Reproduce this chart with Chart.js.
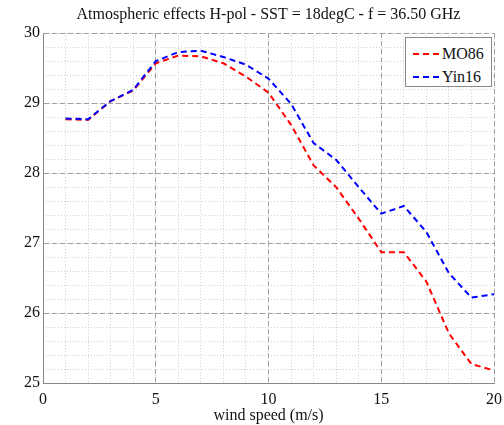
<!DOCTYPE html>
<html>
<head>
<meta charset="utf-8">
<script src="https://cdn.jsdelivr.net/npm/chart.js@4.4.1/dist/chart.umd.min.js"></script>
<style>
  html, body { margin: 0; padding: 0; background: #fff; }
  #wrap { position: relative; width: 504px; height: 425px; }
  #legend {
    position: absolute; left: 405px; top: 37px; width: 85px; height: 48px;
    border: 1px solid #888; background: #fff;
    font-family: 'Liberation Serif', 'Times New Roman', serif; font-size: 16px; color: #111;
  }
  .item { position: absolute; left: 7px; height: 20px; line-height: 20px; white-space: nowrap; }
  .sample { display: inline-block; width: 26px; height: 0; border-top: 2px dashed; vertical-align: middle; margin-right: 3px; position: relative; top: -1px; }
</style>
</head>
<body>
<div id="wrap">
  <canvas id="c" width="504" height="425"></canvas>
  <div id="legend">
    <div class="item" style="top:6px"><span class="sample" style="border-color:#ff0000"></span>MO86</div>
    <div class="item" style="top:29px"><span class="sample" style="border-color:#0000ff"></span>Yin16</div>
  </div>
</div>
<script>
const chartTitle = 'Atmospheric effects H-pol - SST = 18degC - f = 36.50 GHz';
const xAxisTitle = 'wind speed (m/s)';
const windSpeed = [1, 2, 3, 4, 5, 6, 7, 8, 9, 10, 11, 12, 13, 14, 15, 16, 17, 18, 19, 20];
const mo86 = [28.77, 28.76, 29.03, 29.18, 29.57, 29.68, 29.67, 29.57, 29.38, 29.15, 28.69, 28.11, 27.80, 27.35, 26.87, 26.87, 26.45, 25.71, 25.27, 25.18];
const yin16 = [28.78, 28.77, 29.03, 29.19, 29.60, 29.73, 29.75, 29.66, 29.55, 29.35, 28.99, 28.43, 28.19, 27.80, 27.42, 27.53, 27.16, 26.57, 26.22, 26.27];
const seriesNames = ['MO86', 'Yin16'];

const serif = "'Liberation Serif', 'Times New Roman', serif";
const minorGrid = { color: '#cfcfcf', lineWidth: 1, drawTicks: false };
const minorBorder = { display: false, dash: [1, 2] };

new Chart(document.getElementById('c'), {
  type: 'line',
  data: {
    datasets: [
      { label: seriesNames[0], data: windSpeed.map((x, i) => ({ x, y: mo86[i] })),
        borderColor: '#ff0000', borderWidth: 2, borderDash: [6, 4], pointRadius: 0, tension: 0, fill: false, order: 1 },
      { label: seriesNames[1], data: windSpeed.map((x, i) => ({ x, y: yin16[i] })),
        borderColor: '#0000ff', borderWidth: 2, borderDash: [6, 4], pointRadius: 0, tension: 0, fill: false, order: 0 }
    ]
  },
  options: {
    responsive: false,
    animation: false,
    devicePixelRatio: 1,
    layout: { padding: { left: 0, right: 10, top: 0, bottom: 0 } },
    plugins: {
      legend: { display: false },
      tooltip: { enabled: false },
      title: {
        display: true, text: chartTitle, fullSize: false, color: '#111',
        font: { family: serif, size: 16, weight: 'normal' },
        padding: { top: 5, bottom: 9 }
      }
    },
    scales: {
      xm: {
        type: 'linear', position: 'bottom', min: 0, max: 20,
        ticks: { display: false, stepSize: 1 },
        grid: minorGrid, border: minorBorder,
        afterFit: s => { s.height = 0; s.paddingRight = 0; s.paddingLeft = 0; }
      },
      ym: {
        type: 'linear', position: 'left', min: 25, max: 30,
        ticks: { display: false, stepSize: 0.2 },
        grid: minorGrid, border: minorBorder,
        afterFit: s => { s.width = 0; s.paddingTop = 0; s.paddingBottom = 0; }
      },
      x: {
        type: 'linear', position: 'bottom', min: 0, max: 20,
        ticks: { stepSize: 5, color: '#111', padding: 7, font: { family: serif, size: 16 } },
        grid: { color: '#a0a0a0', lineWidth: 1, drawTicks: false },
        border: { display: true, color: '#888', width: 1, dash: [5, 3] },
        title: { display: true, text: xAxisTitle, color: '#111', font: { family: serif, size: 16 }, padding: { top: 0, bottom: 0 } },
        afterFit: s => { s.height = 42; s.paddingRight = 0; s.paddingLeft = 0; }
      },
      y: {
        type: 'linear', position: 'left', min: 25, max: 30,
        ticks: { stepSize: 1, color: '#111', padding: 3, font: { family: serif, size: 16 } },
        grid: { color: '#a0a0a0', lineWidth: 1, drawTicks: false },
        border: { display: true, color: '#888', width: 1, dash: [5, 3] },
        afterFit: s => { s.width = 43; s.paddingTop = 0; s.paddingBottom = 0; }
      }
    }
  }
});
</script>
</body>
</html>
